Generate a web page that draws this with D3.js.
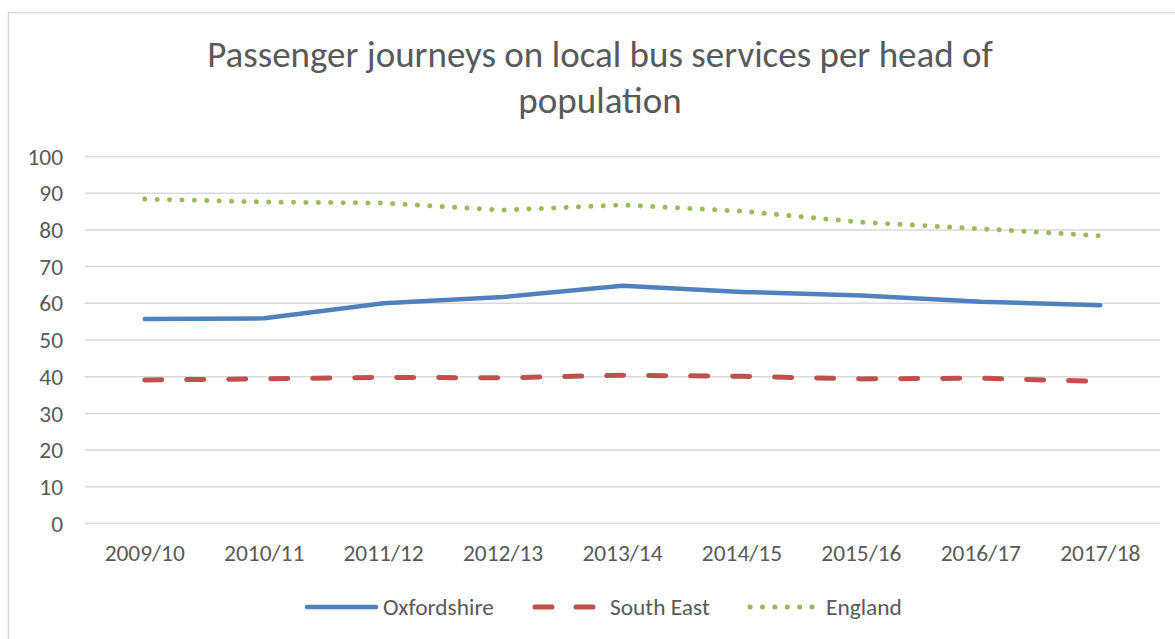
<!DOCTYPE html>
<html><head><meta charset="utf-8">
<script src="https://cdn.jsdelivr.net/npm/d3@7"></script>
<style>html,body{margin:0;padding:0;background:#fff;}svg{display:block;font-family:Carlito,Calibri,"Open Sans","Noto Sans",sans-serif;}</style>
</head><body>
<svg id="c" width="1175" height="639"></svg>
<script>
const categories = ["2009/10","2010/11","2011/12","2012/13","2013/14","2014/15","2015/16","2016/17","2017/18"];
const oxfordshire = [55.7, 55.9, 60.0, 61.7, 64.8, 63.1, 62.1, 60.4, 59.5];
const southEast   = [39.1, 39.4, 39.8, 39.7, 40.4, 40.1, 39.4, 39.6, 38.7];
const england     = [88.4, 87.6, 87.3, 85.4, 86.8, 85.1, 82.1, 80.3, 78.4];
const yTicks = [0,10,20,30,40,50,60,70,80,90,100];
const seriesNames = ["Oxfordshire","South East","England"];
const titleLines = ["Passenger journeys on local bus services per head of","population"];

const svg = d3.select("#c");
const textColor = "#595959";
const fsTitle = 37, fsAxis = 23.4;

// frame
svg.append("rect").attr("x",8.5).attr("y",12.5).attr("width",1175).attr("height",640)
  .attr("fill","none").attr("stroke","#D9D9D9").attr("stroke-width",1.5);

// title
titleLines.forEach((t,i)=>{
  svg.append("text").attr("x",600).attr("y",67+i*46).attr("text-anchor","middle")
    .attr("fill",textColor).attr("font-size",fsTitle).text(t);
});

const x = d3.scaleBand().domain(categories).range([85,1160]);
const y = d3.scaleLinear().domain([0,100]).range([523.5,156.5]);

// gridlines
svg.append("g").selectAll("line").data(yTicks).join("line")
  .attr("x1",85).attr("x2",1160).attr("y1",d=>y(d)).attr("y2",d=>y(d))
  .attr("stroke","#D9D9D9").attr("stroke-width",1.5);

// x labels
svg.append("g").selectAll("text").data(categories).join("text")
  .attr("x",d=>x(d)+x.bandwidth()/2).attr("y",553).attr("dy","0.35em").attr("text-anchor","middle")
  .attr("fill",textColor).attr("font-size",fsAxis).text(d=>d);

// y labels
svg.append("g").selectAll("text").data(yTicks).join("text")
  .attr("x",63).attr("y",d=>y(d)).attr("dy","0.35em").attr("text-anchor","end")
  .attr("fill",textColor).attr("font-size",fsAxis).text(d=>d);

const line = d3.line().x((d,i)=>x(categories[i])+x.bandwidth()/2).y(d=>y(d));
const styles = [
  {data:oxfordshire, color:"#4F81BD", w:4.5, dash:null},
  {data:southEast, color:"#C0504D", w:5, dash:"17,25"},
  {data:england, color:"#9BBB59", w:5, dash:"0.1,12.3"}
];
styles.forEach(s=>{
  svg.append("path").datum(s.data).attr("d",line).attr("fill","none")
    .attr("stroke",s.color).attr("stroke-width",s.w).attr("stroke-linecap","round")
    .attr("stroke-linejoin","round").attr("stroke-dasharray",s.dash);
});

// legend
const leg = [
  {x1:307,x2:376,tx:383},
  {x1:535,x2:598,tx:610},
  {x1:750,x2:815,tx:826}
];
seriesNames.forEach((n,i)=>{
  const s = styles[i], L = leg[i];
  svg.append("line").attr("x1",L.x1).attr("x2",L.x2).attr("y1",607).attr("y2",607)
    .attr("stroke",s.color).attr("stroke-width",s.w).attr("stroke-linecap","round")
    .attr("stroke-dasharray", i===1 ? "17,24" : (i===2 ? "0.1,12.3" : null));
  svg.append("text").attr("x",L.tx).attr("y",607).attr("dy","0.35em")
    .attr("fill",textColor).attr("font-size",fsAxis).text(n);
});
</script>
</body></html>
